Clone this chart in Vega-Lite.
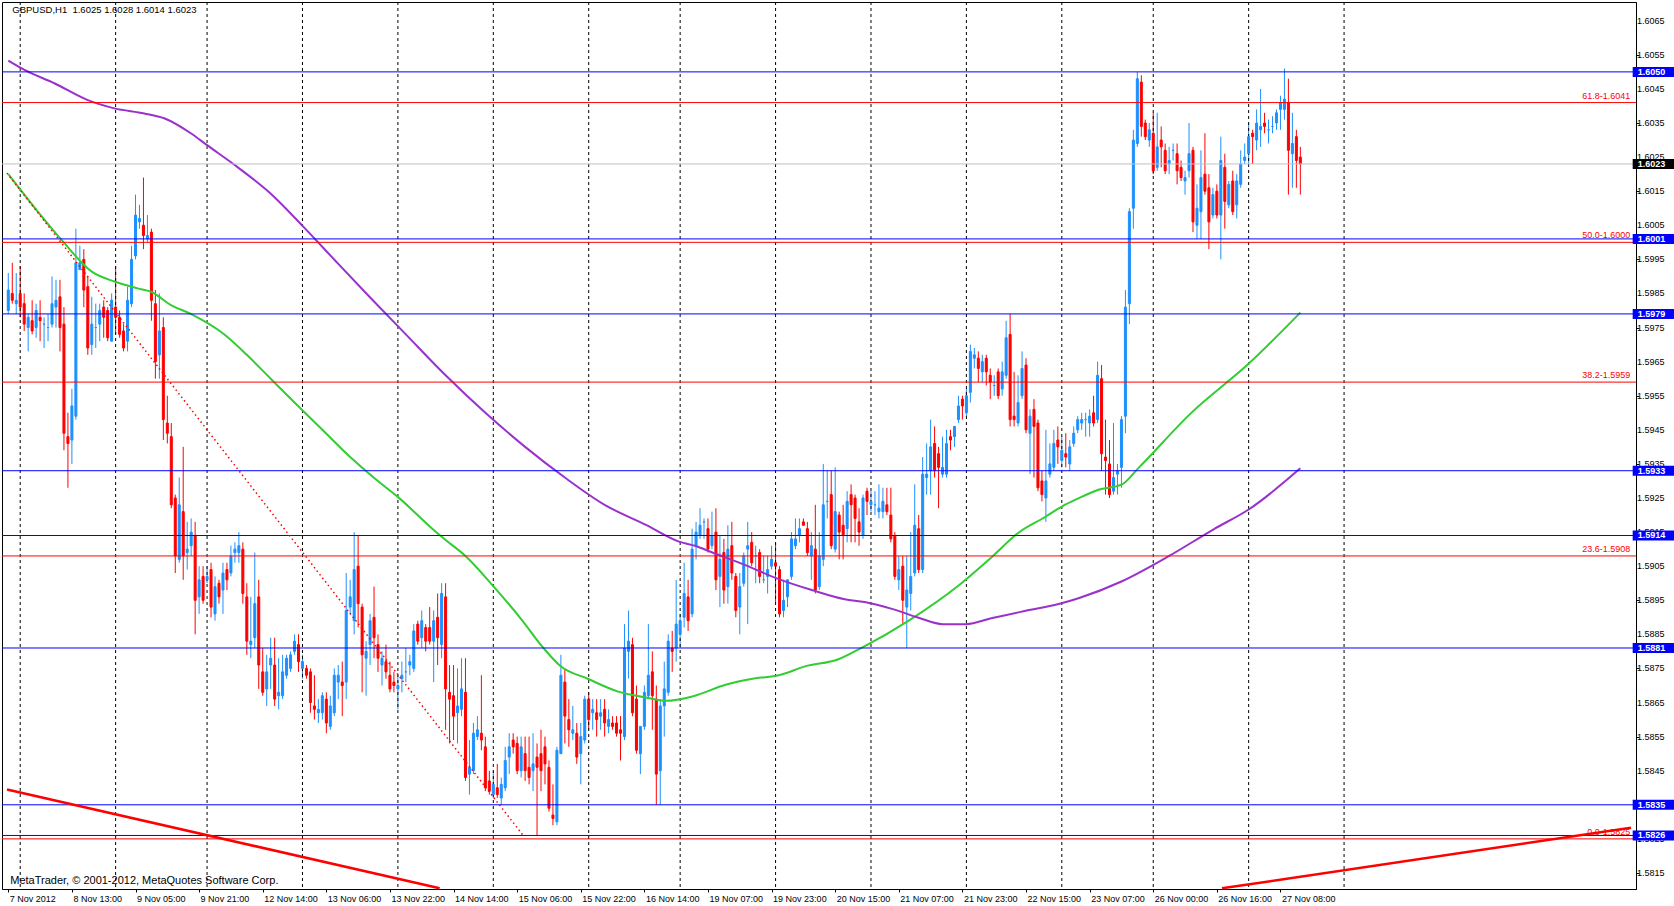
{
  "$schema": "https://vega.github.io/schema/vega-lite/v6.json",
  "width": 1634,
  "height": 887,
  "autosize": {"type": "none"},
  "padding": {"left": 2, "top": 2, "right": 38, "bottom": 17},
  "background": "#FFFFFF",
  "config": {
    "view": {"stroke": "#000000", "strokeWidth": 1},
    "font": "Liberation Sans",
    "axis": {"domainColor": "#000000", "tickColor": "#000000", "labelColor": "#000000", "labelFont": "Liberation Sans", "labelFontSize": 9, "grid": false}
  },
  "datasets": {
    "bars": [
      {"i":0,"o":1.5980,"h":1.5991,"l":1.5979,"c":1.5986},
      {"i":1,"o":1.5985,"h":1.5994,"l":1.5982,"c":1.5983},
      {"i":2,"o":1.5982,"h":1.5991,"l":1.5979,"c":1.5983},
      {"i":3,"o":1.5985,"h":1.5993,"l":1.5978,"c":1.5981},
      {"i":4,"o":1.5982,"h":1.5985,"l":1.5974,"c":1.5976},
      {"i":5,"o":1.5975,"h":1.5979,"l":1.5968,"c":1.5978},
      {"i":6,"o":1.5977,"h":1.5983,"l":1.5973,"c":1.5974},
      {"i":7,"o":1.5975,"h":1.5982,"l":1.5972,"c":1.5980},
      {"i":8,"o":1.5978,"h":1.5983,"l":1.5971,"c":1.5977},
      {"i":9,"o":1.5976,"h":1.5978,"l":1.5969,"c":1.5976},
      {"i":10,"o":1.5975,"h":1.5979,"l":1.5971,"c":1.5975},
      {"i":11,"o":1.5976,"h":1.5990,"l":1.5975,"c":1.5982},
      {"i":12,"o":1.5981,"h":1.5989,"l":1.5975,"c":1.5983},
      {"i":13,"o":1.5984,"h":1.5989,"l":1.5968,"c":1.5975},
      {"i":14,"o":1.5976,"h":1.5981,"l":1.5939,"c":1.5944},
      {"i":15,"o":1.5943,"h":1.5950,"l":1.5928,"c":1.5941},
      {"i":16,"o":1.5942,"h":1.5957,"l":1.5935,"c":1.5952},
      {"i":17,"o":1.5949,"h":1.6004,"l":1.5948,"c":1.5994},
      {"i":18,"o":1.5992,"h":1.5999,"l":1.5992,"c":1.5994},
      {"i":19,"o":1.5995,"h":1.5998,"l":1.5981,"c":1.5986},
      {"i":20,"o":1.5987,"h":1.5990,"l":1.5967,"c":1.5969},
      {"i":21,"o":1.5970,"h":1.5984,"l":1.5967,"c":1.5976},
      {"i":22,"o":1.5975,"h":1.5982,"l":1.5969,"c":1.5975},
      {"i":23,"o":1.5976,"h":1.5982,"l":1.5971,"c":1.5980},
      {"i":24,"o":1.5981,"h":1.5983,"l":1.5972,"c":1.5978},
      {"i":25,"o":1.5980,"h":1.5981,"l":1.5971,"c":1.5972},
      {"i":26,"o":1.5971,"h":1.5985,"l":1.5971,"c":1.5983},
      {"i":27,"o":1.5981,"h":1.5993,"l":1.5973,"c":1.5978},
      {"i":28,"o":1.5978,"h":1.5980,"l":1.5972,"c":1.5973},
      {"i":29,"o":1.5974,"h":1.5976,"l":1.5968,"c":1.5969},
      {"i":30,"o":1.5971,"h":1.5987,"l":1.5968,"c":1.5983},
      {"i":31,"o":1.5982,"h":1.5999,"l":1.5981,"c":1.5995},
      {"i":32,"o":1.5996,"h":1.6014,"l":1.5995,"c":1.6008},
      {"i":33,"o":1.6006,"h":1.6011,"l":1.6004,"c":1.6007},
      {"i":34,"o":1.6005,"h":1.6019,"l":1.5998,"c":1.6002},
      {"i":35,"o":1.6001,"h":1.6008,"l":1.6000,"c":1.6002},
      {"i":36,"o":1.6003,"h":1.6004,"l":1.5977,"c":1.5983},
      {"i":37,"o":1.5982,"h":1.5986,"l":1.5960,"c":1.5965},
      {"i":38,"o":1.5967,"h":1.5985,"l":1.5960,"c":1.5974},
      {"i":39,"o":1.5975,"h":1.5978,"l":1.5942,"c":1.5948},
      {"i":40,"o":1.5947,"h":1.5955,"l":1.5941,"c":1.5944},
      {"i":41,"o":1.5943,"h":1.5947,"l":1.5922,"c":1.5923},
      {"i":42,"o":1.5925,"h":1.5926,"l":1.5903,"c":1.5908},
      {"i":43,"o":1.5907,"h":1.5931,"l":1.5906,"c":1.5923},
      {"i":44,"o":1.5921,"h":1.5940,"l":1.5901,"c":1.5908},
      {"i":45,"o":1.5909,"h":1.5918,"l":1.5904,"c":1.5910},
      {"i":46,"o":1.5911,"h":1.5919,"l":1.5908,"c":1.5915},
      {"i":47,"o":1.5914,"h":1.5918,"l":1.5885,"c":1.5895},
      {"i":48,"o":1.5896,"h":1.5905,"l":1.5891,"c":1.5901},
      {"i":49,"o":1.5902,"h":1.5905,"l":1.5894,"c":1.5895},
      {"i":50,"o":1.5901,"h":1.5905,"l":1.5900,"c":1.5902},
      {"i":51,"o":1.5904,"h":1.5906,"l":1.5890,"c":1.5893},
      {"i":52,"o":1.5891,"h":1.5902,"l":1.5889,"c":1.5899},
      {"i":53,"o":1.5900,"h":1.5901,"l":1.5894,"c":1.5896},
      {"i":54,"o":1.5898,"h":1.5906,"l":1.5891,"c":1.5903},
      {"i":55,"o":1.5904,"h":1.5906,"l":1.5898,"c":1.5901},
      {"i":56,"o":1.5903,"h":1.5911,"l":1.5902,"c":1.5908},
      {"i":57,"o":1.5909,"h":1.5912,"l":1.5906,"c":1.5910},
      {"i":58,"o":1.5909,"h":1.5915,"l":1.5906,"c":1.5911},
      {"i":59,"o":1.5910,"h":1.5912,"l":1.5894,"c":1.5897},
      {"i":60,"o":1.5896,"h":1.5900,"l":1.5879,"c":1.5883},
      {"i":61,"o":1.5882,"h":1.5896,"l":1.5878,"c":1.5883},
      {"i":62,"o":1.5884,"h":1.5909,"l":1.5881,"c":1.5894},
      {"i":63,"o":1.5896,"h":1.5901,"l":1.5869,"c":1.5876},
      {"i":64,"o":1.5874,"h":1.5881,"l":1.5867,"c":1.5868},
      {"i":65,"o":1.5869,"h":1.5879,"l":1.5864,"c":1.5874},
      {"i":66,"o":1.5876,"h":1.5884,"l":1.5869,"c":1.5878},
      {"i":67,"o":1.5876,"h":1.5884,"l":1.5864,"c":1.5866},
      {"i":68,"o":1.5867,"h":1.5878,"l":1.5863,"c":1.5868},
      {"i":69,"o":1.5867,"h":1.5879,"l":1.5866,"c":1.5874},
      {"i":70,"o":1.5873,"h":1.5879,"l":1.5872,"c":1.5878},
      {"i":71,"o":1.5875,"h":1.5880,"l":1.5874,"c":1.5879},
      {"i":72,"o":1.5880,"h":1.5885,"l":1.5879,"c":1.5883},
      {"i":73,"o":1.5882,"h":1.5885,"l":1.5874,"c":1.5877},
      {"i":74,"o":1.5875,"h":1.5879,"l":1.5872,"c":1.5877},
      {"i":75,"o":1.5875,"h":1.5876,"l":1.5872,"c":1.5873},
      {"i":76,"o":1.5874,"h":1.5875,"l":1.5862,"c":1.5865},
      {"i":77,"o":1.5864,"h":1.5873,"l":1.5860,"c":1.5863},
      {"i":78,"o":1.5862,"h":1.5866,"l":1.5859,"c":1.5863},
      {"i":79,"o":1.5862,"h":1.5868,"l":1.5860,"c":1.5867},
      {"i":80,"o":1.5866,"h":1.5868,"l":1.5856,"c":1.5859},
      {"i":81,"o":1.5858,"h":1.5867,"l":1.5857,"c":1.5864},
      {"i":82,"o":1.5862,"h":1.5875,"l":1.5861,"c":1.5873},
      {"i":83,"o":1.5871,"h":1.5876,"l":1.5866,"c":1.5873},
      {"i":84,"o":1.5871,"h":1.5877,"l":1.5861,"c":1.5870},
      {"i":85,"o":1.5871,"h":1.5903,"l":1.5866,"c":1.5892},
      {"i":86,"o":1.5893,"h":1.5901,"l":1.5891,"c":1.5896},
      {"i":87,"o":1.5889,"h":1.5915,"l":1.5885,"c":1.5904},
      {"i":88,"o":1.5905,"h":1.5914,"l":1.5887,"c":1.5894},
      {"i":89,"o":1.5893,"h":1.5894,"l":1.5868,"c":1.5879},
      {"i":90,"o":1.5878,"h":1.5883,"l":1.5867,"c":1.5880},
      {"i":91,"o":1.5882,"h":1.5891,"l":1.5876,"c":1.5889},
      {"i":92,"o":1.5890,"h":1.5899,"l":1.5878,"c":1.5884},
      {"i":93,"o":1.5882,"h":1.5885,"l":1.5874,"c":1.5878},
      {"i":94,"o":1.5876,"h":1.5880,"l":1.5870,"c":1.5878},
      {"i":95,"o":1.5877,"h":1.5882,"l":1.5872,"c":1.5874},
      {"i":96,"o":1.5873,"h":1.5877,"l":1.5868,"c":1.5869},
      {"i":97,"o":1.5871,"h":1.5874,"l":1.5868,"c":1.5870},
      {"i":98,"o":1.5869,"h":1.5873,"l":1.5863,"c":1.5870},
      {"i":99,"o":1.5872,"h":1.5877,"l":1.5868,"c":1.5873},
      {"i":100,"o":1.5874,"h":1.5881,"l":1.5871,"c":1.5874},
      {"i":101,"o":1.5876,"h":1.5879,"l":1.5873,"c":1.5877},
      {"i":102,"o":1.5875,"h":1.5888,"l":1.5874,"c":1.5886},
      {"i":103,"o":1.5888,"h":1.5889,"l":1.5882,"c":1.5883},
      {"i":104,"o":1.5884,"h":1.5892,"l":1.5881,"c":1.5889},
      {"i":105,"o":1.5887,"h":1.5888,"l":1.5880,"c":1.5883},
      {"i":106,"o":1.5887,"h":1.5893,"l":1.5882,"c":1.5883},
      {"i":107,"o":1.5883,"h":1.5892,"l":1.5871,"c":1.5889},
      {"i":108,"o":1.5890,"h":1.5897,"l":1.5876,"c":1.5884},
      {"i":109,"o":1.5882,"h":1.5900,"l":1.5878,"c":1.5897},
      {"i":110,"o":1.5896,"h":1.5900,"l":1.5857,"c":1.5869},
      {"i":111,"o":1.5868,"h":1.5876,"l":1.5853,"c":1.5866},
      {"i":112,"o":1.5867,"h":1.5876,"l":1.5854,"c":1.5861},
      {"i":113,"o":1.5862,"h":1.5875,"l":1.5853,"c":1.5864},
      {"i":114,"o":1.5863,"h":1.5878,"l":1.5861,"c":1.5869},
      {"i":115,"o":1.5868,"h":1.5878,"l":1.5842,"c":1.5843},
      {"i":116,"o":1.5844,"h":1.5854,"l":1.5838,"c":1.5846},
      {"i":117,"o":1.5845,"h":1.5859,"l":1.5844,"c":1.5856},
      {"i":118,"o":1.5855,"h":1.5861,"l":1.5854,"c":1.5857},
      {"i":119,"o":1.5856,"h":1.5873,"l":1.5851,"c":1.5854},
      {"i":120,"o":1.5852,"h":1.5855,"l":1.5839,"c":1.5840},
      {"i":121,"o":1.5842,"h":1.5845,"l":1.5838,"c":1.5839},
      {"i":122,"o":1.5838,"h":1.5845,"l":1.5837,"c":1.5841},
      {"i":123,"o":1.5840,"h":1.5847,"l":1.5837,"c":1.5838},
      {"i":124,"o":1.5837,"h":1.5843,"l":1.5835,"c":1.5841},
      {"i":125,"o":1.5840,"h":1.5852,"l":1.5839,"c":1.5848},
      {"i":126,"o":1.5849,"h":1.5856,"l":1.5844,"c":1.5852},
      {"i":127,"o":1.5854,"h":1.5856,"l":1.5850,"c":1.5852},
      {"i":128,"o":1.5853,"h":1.5855,"l":1.5844,"c":1.5845},
      {"i":129,"o":1.5845,"h":1.5855,"l":1.5843,"c":1.5852},
      {"i":130,"o":1.5850,"h":1.5855,"l":1.5842,"c":1.5845},
      {"i":131,"o":1.5846,"h":1.5855,"l":1.5841,"c":1.5843},
      {"i":132,"o":1.5845,"h":1.5856,"l":1.5839,"c":1.5847},
      {"i":133,"o":1.5849,"h":1.5853,"l":1.5826,"c":1.5846},
      {"i":134,"o":1.5850,"h":1.5857,"l":1.5839,"c":1.5845},
      {"i":135,"o":1.5852,"h":1.5855,"l":1.5841,"c":1.5847},
      {"i":136,"o":1.5846,"h":1.5848,"l":1.5833,"c":1.5834},
      {"i":137,"o":1.5832,"h":1.5841,"l":1.5829,"c":1.5831},
      {"i":138,"o":1.5830,"h":1.5852,"l":1.5829,"c":1.5851},
      {"i":139,"o":1.5850,"h":1.5879,"l":1.5850,"c":1.5873},
      {"i":140,"o":1.5871,"h":1.5875,"l":1.5853,"c":1.5861},
      {"i":141,"o":1.5860,"h":1.5866,"l":1.5852,"c":1.5857},
      {"i":142,"o":1.5856,"h":1.5864,"l":1.5854,"c":1.5857},
      {"i":143,"o":1.5856,"h":1.5859,"l":1.5847,"c":1.5849},
      {"i":144,"o":1.5850,"h":1.5859,"l":1.5841,"c":1.5855},
      {"i":145,"o":1.5854,"h":1.5867,"l":1.5853,"c":1.5866},
      {"i":146,"o":1.5866,"h":1.5868,"l":1.5857,"c":1.5860},
      {"i":147,"o":1.5862,"h":1.5866,"l":1.5857,"c":1.5863},
      {"i":148,"o":1.5862,"h":1.5866,"l":1.5855,"c":1.5860},
      {"i":149,"o":1.5861,"h":1.5866,"l":1.5857,"c":1.5862},
      {"i":150,"o":1.5863,"h":1.5866,"l":1.5855,"c":1.5859},
      {"i":151,"o":1.5858,"h":1.5863,"l":1.5856,"c":1.5860},
      {"i":152,"o":1.5859,"h":1.5861,"l":1.5857,"c":1.5858},
      {"i":153,"o":1.5859,"h":1.5861,"l":1.5855,"c":1.5856},
      {"i":154,"o":1.5857,"h":1.5861,"l":1.5848,"c":1.5856},
      {"i":155,"o":1.5855,"h":1.5888,"l":1.5854,"c":1.5881},
      {"i":156,"o":1.5880,"h":1.5892,"l":1.5872,"c":1.5883},
      {"i":157,"o":1.5882,"h":1.5884,"l":1.5861,"c":1.5862},
      {"i":158,"o":1.5866,"h":1.5870,"l":1.5850,"c":1.5851},
      {"i":159,"o":1.5850,"h":1.5858,"l":1.5844,"c":1.5858},
      {"i":160,"o":1.5858,"h":1.5870,"l":1.5857,"c":1.5868},
      {"i":161,"o":1.5867,"h":1.5888,"l":1.5866,"c":1.5873},
      {"i":162,"o":1.5874,"h":1.5880,"l":1.5857,"c":1.5867},
      {"i":163,"o":1.5866,"h":1.5870,"l":1.5835,"c":1.5844},
      {"i":164,"o":1.5845,"h":1.5866,"l":1.5835,"c":1.5864},
      {"i":165,"o":1.5864,"h":1.5877,"l":1.5855,"c":1.5869},
      {"i":166,"o":1.5868,"h":1.5885,"l":1.5867,"c":1.5883},
      {"i":167,"o":1.5881,"h":1.5886,"l":1.5874,"c":1.5880},
      {"i":168,"o":1.5881,"h":1.5901,"l":1.5877,"c":1.5888},
      {"i":169,"o":1.5885,"h":1.5891,"l":1.5881,"c":1.5889},
      {"i":170,"o":1.5890,"h":1.5906,"l":1.5887,"c":1.5897},
      {"i":171,"o":1.5896,"h":1.5901,"l":1.5886,"c":1.5889},
      {"i":172,"o":1.5891,"h":1.5916,"l":1.5890,"c":1.5910},
      {"i":173,"o":1.5911,"h":1.5918,"l":1.5907,"c":1.5915},
      {"i":174,"o":1.5914,"h":1.5922,"l":1.5913,"c":1.5917},
      {"i":175,"o":1.5918,"h":1.5919,"l":1.5913,"c":1.5918},
      {"i":176,"o":1.5916,"h":1.5919,"l":1.5909,"c":1.5910},
      {"i":177,"o":1.5911,"h":1.5921,"l":1.5910,"c":1.5914},
      {"i":178,"o":1.5915,"h":1.5922,"l":1.5898,"c":1.5901},
      {"i":179,"o":1.5902,"h":1.5914,"l":1.5893,"c":1.5907},
      {"i":180,"o":1.5909,"h":1.5913,"l":1.5894,"c":1.5898},
      {"i":181,"o":1.5899,"h":1.5917,"l":1.5894,"c":1.5910},
      {"i":182,"o":1.5911,"h":1.5918,"l":1.5901,"c":1.5903},
      {"i":183,"o":1.5902,"h":1.5903,"l":1.5890,"c":1.5892},
      {"i":184,"o":1.5893,"h":1.5903,"l":1.5885,"c":1.5899},
      {"i":185,"o":1.5900,"h":1.5909,"l":1.5899,"c":1.5908},
      {"i":186,"o":1.5910,"h":1.5918,"l":1.5888,"c":1.5911},
      {"i":187,"o":1.5912,"h":1.5915,"l":1.5905,"c":1.5906},
      {"i":188,"o":1.5908,"h":1.5911,"l":1.5900,"c":1.5908},
      {"i":189,"o":1.5909,"h":1.5910,"l":1.5900,"c":1.5902},
      {"i":190,"o":1.5901,"h":1.5908,"l":1.5900,"c":1.5901},
      {"i":191,"o":1.5902,"h":1.5908,"l":1.5897,"c":1.5904},
      {"i":192,"o":1.5905,"h":1.5911,"l":1.5904,"c":1.5907},
      {"i":193,"o":1.5906,"h":1.5912,"l":1.5894,"c":1.5905},
      {"i":194,"o":1.5904,"h":1.5905,"l":1.5890,"c":1.5891},
      {"i":195,"o":1.5892,"h":1.5901,"l":1.5890,"c":1.5895},
      {"i":196,"o":1.5896,"h":1.5901,"l":1.5893,"c":1.5901},
      {"i":197,"o":1.5902,"h":1.5915,"l":1.5901,"c":1.5913},
      {"i":198,"o":1.5911,"h":1.5919,"l":1.5910,"c":1.5913},
      {"i":199,"o":1.5914,"h":1.5919,"l":1.5912,"c":1.5916},
      {"i":200,"o":1.5918,"h":1.5919,"l":1.5917,"c":1.5917},
      {"i":201,"o":1.5916,"h":1.5918,"l":1.5908,"c":1.5909},
      {"i":202,"o":1.5908,"h":1.5915,"l":1.5901,"c":1.5911},
      {"i":203,"o":1.5910,"h":1.5923,"l":1.5897,"c":1.5898},
      {"i":204,"o":1.5899,"h":1.5915,"l":1.5898,"c":1.5908},
      {"i":205,"o":1.5907,"h":1.5935,"l":1.5905,"c":1.5923},
      {"i":206,"o":1.5924,"h":1.5933,"l":1.5919,"c":1.5924},
      {"i":207,"o":1.5926,"h":1.5933,"l":1.5910,"c":1.5911},
      {"i":208,"o":1.5910,"h":1.5934,"l":1.5909,"c":1.5921},
      {"i":209,"o":1.5920,"h":1.5921,"l":1.5907,"c":1.5915},
      {"i":210,"o":1.5917,"h":1.5923,"l":1.5907,"c":1.5914},
      {"i":211,"o":1.5916,"h":1.5927,"l":1.5912,"c":1.5924},
      {"i":212,"o":1.5926,"h":1.5929,"l":1.5912,"c":1.5923},
      {"i":213,"o":1.5925,"h":1.5926,"l":1.5912,"c":1.5919},
      {"i":214,"o":1.5918,"h":1.5922,"l":1.5911,"c":1.5915},
      {"i":215,"o":1.5914,"h":1.5926,"l":1.5913,"c":1.5925},
      {"i":216,"o":1.5927,"h":1.5928,"l":1.5920,"c":1.5924},
      {"i":217,"o":1.5923,"h":1.5927,"l":1.5921,"c":1.5924},
      {"i":218,"o":1.5923,"h":1.5927,"l":1.5920,"c":1.5923},
      {"i":219,"o":1.5921,"h":1.5929,"l":1.5919,"c":1.5922},
      {"i":220,"o":1.5921,"h":1.5928,"l":1.5919,"c":1.5924},
      {"i":221,"o":1.5923,"h":1.5928,"l":1.5920,"c":1.5921},
      {"i":222,"o":1.5920,"h":1.5928,"l":1.5912,"c":1.5913},
      {"i":223,"o":1.5914,"h":1.5915,"l":1.5901,"c":1.5902},
      {"i":224,"o":1.5901,"h":1.5908,"l":1.5898,"c":1.5904},
      {"i":225,"o":1.5905,"h":1.5908,"l":1.5888,"c":1.5895},
      {"i":226,"o":1.5893,"h":1.5908,"l":1.5881,"c":1.5898},
      {"i":227,"o":1.5897,"h":1.5915,"l":1.5892,"c":1.5902},
      {"i":228,"o":1.5903,"h":1.5929,"l":1.5902,"c":1.5917},
      {"i":229,"o":1.5916,"h":1.5920,"l":1.5903,"c":1.5904},
      {"i":230,"o":1.5904,"h":1.5937,"l":1.5903,"c":1.5932},
      {"i":231,"o":1.5931,"h":1.5941,"l":1.5926,"c":1.5932},
      {"i":232,"o":1.5933,"h":1.5948,"l":1.5926,"c":1.5940},
      {"i":233,"o":1.5941,"h":1.5946,"l":1.5931,"c":1.5933},
      {"i":234,"o":1.5938,"h":1.5940,"l":1.5922,"c":1.5934},
      {"i":235,"o":1.5932,"h":1.5943,"l":1.5931,"c":1.5934},
      {"i":236,"o":1.5932,"h":1.5945,"l":1.5931,"c":1.5941},
      {"i":237,"o":1.5943,"h":1.5945,"l":1.5939,"c":1.5942},
      {"i":238,"o":1.5943,"h":1.5946,"l":1.5940,"c":1.5946},
      {"i":239,"o":1.5948,"h":1.5955,"l":1.5947,"c":1.5952},
      {"i":240,"o":1.5954,"h":1.5955,"l":1.5948,"c":1.5952},
      {"i":241,"o":1.5950,"h":1.5957,"l":1.5949,"c":1.5955},
      {"i":242,"o":1.5956,"h":1.5970,"l":1.5953,"c":1.5968},
      {"i":243,"o":1.5966,"h":1.5969,"l":1.5963,"c":1.5967},
      {"i":244,"o":1.5966,"h":1.5968,"l":1.5959,"c":1.5963},
      {"i":245,"o":1.5962,"h":1.5967,"l":1.5959,"c":1.5965},
      {"i":246,"o":1.5966,"h":1.5967,"l":1.5958,"c":1.5962},
      {"i":247,"o":1.5961,"h":1.5963,"l":1.5954,"c":1.5959},
      {"i":248,"o":1.5958,"h":1.5961,"l":1.5955,"c":1.5958},
      {"i":249,"o":1.5962,"h":1.5963,"l":1.5954,"c":1.5955},
      {"i":250,"o":1.5957,"h":1.5965,"l":1.5955,"c":1.5962},
      {"i":251,"o":1.5961,"h":1.5977,"l":1.5960,"c":1.5972},
      {"i":252,"o":1.5973,"h":1.5979,"l":1.5946,"c":1.5948},
      {"i":253,"o":1.5949,"h":1.5962,"l":1.5946,"c":1.5948},
      {"i":254,"o":1.5947,"h":1.5961,"l":1.5946,"c":1.5953},
      {"i":255,"o":1.5955,"h":1.5968,"l":1.5954,"c":1.5963},
      {"i":256,"o":1.5964,"h":1.5966,"l":1.5944,"c":1.5945},
      {"i":257,"o":1.5944,"h":1.5951,"l":1.5932,"c":1.5949},
      {"i":258,"o":1.5951,"h":1.5954,"l":1.5931,"c":1.5946},
      {"i":259,"o":1.5947,"h":1.5948,"l":1.5927,"c":1.5928},
      {"i":260,"o":1.5930,"h":1.5933,"l":1.5924,"c":1.5926},
      {"i":261,"o":1.5925,"h":1.5945,"l":1.5918,"c":1.5930},
      {"i":262,"o":1.5932,"h":1.5941,"l":1.5931,"c":1.5935},
      {"i":263,"o":1.5934,"h":1.5945,"l":1.5933,"c":1.5941},
      {"i":264,"o":1.5942,"h":1.5946,"l":1.5935,"c":1.5940},
      {"i":265,"o":1.5936,"h":1.5943,"l":1.5934,"c":1.5939},
      {"i":266,"o":1.5938,"h":1.5944,"l":1.5934,"c":1.5937},
      {"i":267,"o":1.5935,"h":1.5942,"l":1.5933,"c":1.5940},
      {"i":268,"o":1.5941,"h":1.5946,"l":1.5940,"c":1.5944},
      {"i":269,"o":1.5945,"h":1.5949,"l":1.5944,"c":1.5948},
      {"i":270,"o":1.5947,"h":1.5950,"l":1.5945,"c":1.5948},
      {"i":271,"o":1.5948,"h":1.5950,"l":1.5943,"c":1.5948},
      {"i":272,"o":1.5947,"h":1.5951,"l":1.5943,"c":1.5949},
      {"i":273,"o":1.5950,"h":1.5955,"l":1.5946,"c":1.5947},
      {"i":274,"o":1.5948,"h":1.5965,"l":1.5947,"c":1.5961},
      {"i":275,"o":1.5960,"h":1.5964,"l":1.5933,"c":1.5938},
      {"i":276,"o":1.5937,"h":1.5948,"l":1.5926,"c":1.5936},
      {"i":277,"o":1.5935,"h":1.5942,"l":1.5925,"c":1.5926},
      {"i":278,"o":1.5927,"h":1.5947,"l":1.5926,"c":1.5931},
      {"i":279,"o":1.5932,"h":1.5935,"l":1.5926,"c":1.5933},
      {"i":280,"o":1.5934,"h":1.5949,"l":1.5928,"c":1.5948},
      {"i":281,"o":1.5949,"h":1.5986,"l":1.5944,"c":1.5981},
      {"i":282,"o":1.5982,"h":1.6010,"l":1.5976,"c":1.6009},
      {"i":283,"o":1.6010,"h":1.6033,"l":1.6004,"c":1.6030},
      {"i":284,"o":1.6029,"h":1.6050,"l":1.6028,"c":1.6048},
      {"i":285,"o":1.6047,"h":1.6049,"l":1.6031,"c":1.6034},
      {"i":286,"o":1.6035,"h":1.6036,"l":1.6030,"c":1.6031},
      {"i":287,"o":1.6030,"h":1.6035,"l":1.6028,"c":1.6033},
      {"i":288,"o":1.6032,"h":1.6038,"l":1.6020,"c":1.6021},
      {"i":289,"o":1.6022,"h":1.6038,"l":1.6021,"c":1.6028},
      {"i":290,"o":1.6030,"h":1.6034,"l":1.6022,"c":1.6028},
      {"i":291,"o":1.6027,"h":1.6029,"l":1.6020,"c":1.6021},
      {"i":292,"o":1.6023,"h":1.6028,"l":1.6020,"c":1.6024},
      {"i":293,"o":1.6027,"h":1.6029,"l":1.6024,"c":1.6027},
      {"i":294,"o":1.6026,"h":1.6029,"l":1.6017,"c":1.6021},
      {"i":295,"o":1.6022,"h":1.6024,"l":1.6018,"c":1.6019},
      {"i":296,"o":1.6018,"h":1.6021,"l":1.6014,"c":1.6019},
      {"i":297,"o":1.6021,"h":1.6035,"l":1.6019,"c":1.6026},
      {"i":298,"o":1.6027,"h":1.6028,"l":1.6003,"c":1.6006},
      {"i":299,"o":1.6005,"h":1.6017,"l":1.6001,"c":1.6010},
      {"i":300,"o":1.6009,"h":1.6027,"l":1.6001,"c":1.6019},
      {"i":301,"o":1.6020,"h":1.6032,"l":1.6014,"c":1.6015},
      {"i":302,"o":1.6016,"h":1.6020,"l":1.5998,"c":1.6006},
      {"i":303,"o":1.6008,"h":1.6016,"l":1.6007,"c":1.6014},
      {"i":304,"o":1.6015,"h":1.6017,"l":1.6007,"c":1.6008},
      {"i":305,"o":1.6008,"h":1.6031,"l":1.5995,"c":1.6024},
      {"i":306,"o":1.6022,"h":1.6026,"l":1.6004,"c":1.6012},
      {"i":307,"o":1.6011,"h":1.6018,"l":1.6010,"c":1.6017},
      {"i":308,"o":1.6018,"h":1.6021,"l":1.6008,"c":1.6009},
      {"i":309,"o":1.6011,"h":1.6020,"l":1.6007,"c":1.6018},
      {"i":310,"o":1.6017,"h":1.6027,"l":1.6016,"c":1.6023},
      {"i":311,"o":1.6024,"h":1.6029,"l":1.6023,"c":1.6025},
      {"i":312,"o":1.6026,"h":1.6035,"l":1.6023,"c":1.6031},
      {"i":313,"o":1.6032,"h":1.6033,"l":1.6023,"c":1.6031},
      {"i":314,"o":1.6030,"h":1.6039,"l":1.6027,"c":1.6035},
      {"i":315,"o":1.6033,"h":1.6045,"l":1.6028,"c":1.6034},
      {"i":316,"o":1.6035,"h":1.6038,"l":1.6032,"c":1.6034},
      {"i":317,"o":1.6033,"h":1.6036,"l":1.6029,"c":1.6033},
      {"i":318,"o":1.6034,"h":1.6037,"l":1.6032,"c":1.6034},
      {"i":319,"o":1.6035,"h":1.6039,"l":1.6033,"c":1.6038},
      {"i":320,"o":1.6039,"h":1.6043,"l":1.6033,"c":1.6041},
      {"i":321,"o":1.6039,"h":1.6051,"l":1.6036,"c":1.6042},
      {"i":322,"o":1.6041,"h":1.6048,"l":1.6014,"c":1.6027},
      {"i":323,"o":1.6026,"h":1.6038,"l":1.6016,"c":1.6029},
      {"i":324,"o":1.6031,"h":1.6033,"l":1.6016,"c":1.6024},
      {"i":325,"o":1.6025,"h":1.6028,"l":1.6014,"c":1.6023}
    ],
    "maFast": [
      {"i":0,"p":1.60200},{"i":13.4,"p":1.60007},{"i":21,"p":1.59914},{"i":26.7,"p":1.59885},
      {"i":32.5,"p":1.59865},{"i":35.9,"p":1.59855},{"i":40.9,"p":1.59816},{"i":45.9,"p":1.59790},
      {"i":54.2,"p":1.59731},{"i":60,"p":1.59670},{"i":66,"p":1.59600},{"i":72,"p":1.59530},
      {"i":79,"p":1.59450},{"i":86,"p":1.59370},{"i":92.5,"p":1.59304},{"i":97.9,"p":1.59254},
      {"i":107.5,"p":1.59151},{"i":110,"p":1.59127},{"i":115,"p":1.59080},{"i":122.1,"p":1.58990},
      {"i":129.2,"p":1.58892},{"i":134.6,"p":1.58810},{"i":138.8,"p":1.58758},{"i":145.9,"p":1.58719},
      {"i":153.4,"p":1.58682},{"i":160.4,"p":1.58665},{"i":165.4,"p":1.58655},{"i":172.1,"p":1.58668},
      {"i":180.4,"p":1.58702},{"i":187.9,"p":1.58721},{"i":193.8,"p":1.58730},{"i":200.4,"p":1.58756},
      {"i":208.8,"p":1.58777},{"i":214.4,"p":1.58809},{"i":226.7,"p":1.58892},{"i":239.2,"p":1.58995},
      {"i":247.5,"p":1.59078},{"i":254.2,"p":1.59149},{"i":260.9,"p":1.59195},{"i":265,"p":1.59225},
      {"i":269.2,"p":1.59249},{"i":274.2,"p":1.59274},{"i":280,"p":1.59289},{"i":284.2,"p":1.59337},
      {"i":297.5,"p":1.59499},{"i":312.1,"p":1.59645},{"i":325,"p":1.59794}
    ],
    "maSlow": [
      {"i":0,"p":1.60533},{"i":4.2,"p":1.60505},{"i":11.7,"p":1.60466},{"i":20,"p":1.60417},
      {"i":26.7,"p":1.60393},{"i":34.2,"p":1.60378},{"i":39.2,"p":1.60364},{"i":45.9,"p":1.60320},
      {"i":50,"p":1.60285},{"i":57.5,"p":1.60222},{"i":65.9,"p":1.60144},{"i":74.2,"p":1.60046},
      {"i":82.5,"p":1.59943},{"i":91.2,"p":1.59836},{"i":100,"p":1.59730},{"i":110,"p":1.59610},
      {"i":120,"p":1.59500},{"i":130,"p":1.59400},{"i":140,"p":1.59310},{"i":150,"p":1.59230},
      {"i":160.4,"p":1.59171},{"i":168.7,"p":1.59122},{"i":172.9,"p":1.59109},{"i":177.1,"p":1.59090},
      {"i":185.4,"p":1.59053},{"i":193.8,"p":1.59012},{"i":202.1,"p":1.58980},{"i":210.4,"p":1.58953},
      {"i":215.4,"p":1.58945},{"i":222.5,"p":1.58924},{"i":229.2,"p":1.58898},{"i":235,"p":1.58880},
      {"i":240.9,"p":1.58880},{"i":247.5,"p":1.58898},{"i":255.9,"p":1.58919},{"i":264.2,"p":1.58939},
      {"i":269.2,"p":1.58956},{"i":280,"p":1.59005},{"i":292,"p":1.59080},{"i":303.3,"p":1.59159},
      {"i":312.1,"p":1.59217},{"i":325,"p":1.59337}
    ],
    "days": [
      {"i":3},{"i":27},{"i":50},{"i":74},{"i":98},{"i":122},{"i":146},{"i":169},
      {"i":193},{"i":217},{"i":241},{"i":265},{"i":288},{"i":312},{"i":336}
    ],
    "yticks": [
      {"p":1.5815},{"p":1.5825},{"p":1.5835},{"p":1.5845},{"p":1.5855},{"p":1.5865},{"p":1.5875},
      {"p":1.5885},{"p":1.5895},{"p":1.5905},{"p":1.5915},{"p":1.5925},{"p":1.5935},{"p":1.5945},
      {"p":1.5955},{"p":1.5965},{"p":1.5975},{"p":1.5985},{"p":1.5995},{"p":1.6005},{"p":1.6015},
      {"p":1.6025},{"p":1.6035},{"p":1.6045},{"p":1.6055},{"p":1.6065}
    ],
    "levels": [
      {"p":1.6050},{"p":1.6001},{"p":1.5979},{"p":1.5933},
      {"p":1.5914},{"p":1.5881},{"p":1.5835},{"p":1.5826}
    ],
    "bid": [{"p":1.6023}],
    "fibo": [
      {"p":1.6041,"label":"61.8-1.6041"},
      {"p":1.6000,"label":"50.0-1.6000"},
      {"p":1.5959,"label":"38.2-1.5959"},
      {"p":1.5908,"label":"23.6-1.5908"},
      {"p":1.5825,"label":"0.0-1.5825"}
    ],
    "trend": [
      {"name":"down","i":-0.325,"p":1.58395},
      {"name":"down","i":108.5,"p":1.58105},
      {"name":"up","i":305.3,"p":1.58105},
      {"name":"up","i":408.175,"p":1.58283}
    ],
    "fiboDiag": [
      {"i":-0.325,"p":1.60203},
      {"i":129.6,"p":1.58259}
    ]
  },
  "layer": [
    {
      "data": {"name": "bars"},
      "mark": {"type": "rule", "strokeWidth": 1},
      "encoding": {
        "x": {
          "field": "i", "type": "quantitative", "title": null,
          "scale": {"domain": [-0.325, 408.175], "nice": false, "zero": false},
          "axis": {
            "title": null,
            "orient": "bottom",
            "values": [0,16,32,48,64,80,96,112,128,144,160,176,192,208,224,240,256,272,288,304,320],
            "labelExpr": "['7 Nov 2012','8 Nov 13:00','9 Nov 05:00','9 Nov 21:00','12 Nov 14:00','13 Nov 06:00','13 Nov 22:00','14 Nov 14:00','15 Nov 06:00','15 Nov 22:00','16 Nov 14:00','19 Nov 07:00','19 Nov 23:00','20 Nov 15:00','21 Nov 07:00','21 Nov 23:00','22 Nov 15:00','23 Nov 07:00','26 Nov 00:00','26 Nov 16:00','27 Nov 08:00'][round(datum.value / 16)]",
            "labelAlign": "left",
            "labelBaseline": "top",
            "labelPadding": 2,
            "labelOffset": 1,
            "tickSize": 3,
            "labelFlush": false,
            "labelOverlap": false
          }
        },
        "y": {
          "field": "l", "type": "quantitative", "title": null,
          "scale": {"domain": [1.58103, 1.60705], "nice": false, "zero": false},
          "axis": {
            "title": null,
            "orient": "right",
            "values": [1.5815,1.5825,1.5835,1.5845,1.5855,1.5865,1.5875,1.5885,1.5895,1.5905,1.5915,1.5925,1.5935,1.5945,1.5955,1.5965,1.5975,1.5985,1.5995,1.6005,1.6015,1.6025,1.6035,1.6045,1.6055,1.6065],
            "labels": false,
            "tickSize": 3
          }
        },
        "y2": {"field": "h"},
        "color": {"condition": {"test": "datum.c >= datum.o", "value": "#1E90FF"}, "value": "#FF0000"}
      }
    },
    {
      "data": {"name": "days"},
      "mark": {"type": "rule", "color": "#000000", "strokeWidth": 1, "strokeDash": [3, 3]},
      "encoding": {
        "x": {"field": "i", "type": "quantitative", "title": null, "scale": {"domain": [-0.325, 408.175], "nice": false, "zero": false}}
      }
    },
    {
      "data": {"name": "bars"},
      "mark": {"type": "bar", "width": 2, "strokeWidth": 1},
      "encoding": {
        "x": {"field": "i", "type": "quantitative", "title": null, "scale": {"domain": [-0.325, 408.175], "nice": false, "zero": false}},
        "y": {"field": "o", "type": "quantitative", "title": null, "scale": {"domain": [1.58103, 1.60705], "nice": false, "zero": false}},
        "y2": {"field": "c"},
        "color": {"condition": {"test": "datum.c >= datum.o", "value": "#1E90FF"}, "value": "#FF0000"},
        "stroke": {"condition": {"test": "datum.c >= datum.o", "value": "#1E90FF"}, "value": "#FF0000"}
      }
    },
    {
      "data": {"name": "maFast"},
      "mark": {"type": "line", "color": "#32CD32", "strokeWidth": 2, "interpolate": "monotone"},
      "encoding": {
        "x": {"field": "i", "type": "quantitative", "title": null, "scale": {"domain": [-0.325, 408.175], "nice": false, "zero": false}},
        "y": {"field": "p", "type": "quantitative", "title": null, "scale": {"domain": [1.58103, 1.60705], "nice": false, "zero": false}}
      }
    },
    {
      "data": {"name": "maSlow"},
      "mark": {"type": "line", "color": "#9932CC", "strokeWidth": 2, "interpolate": "monotone"},
      "encoding": {
        "x": {"field": "i", "type": "quantitative", "title": null, "scale": {"domain": [-0.325, 408.175], "nice": false, "zero": false}},
        "y": {"field": "p", "type": "quantitative", "title": null, "scale": {"domain": [1.58103, 1.60705], "nice": false, "zero": false}}
      }
    },
    {
      "data": {"name": "fibo"},
      "mark": {"type": "rule", "color": "#FF0000", "strokeWidth": 1},
      "encoding": {
        "y": {"field": "p", "type": "quantitative", "title": null, "scale": {"domain": [1.58103, 1.60705], "nice": false, "zero": false}}
      }
    },
    {
      "data": {"name": "bid"},
      "mark": {"type": "rule", "color": "#C0C0C0", "strokeWidth": 1},
      "encoding": {
        "y": {"field": "p", "type": "quantitative", "title": null, "scale": {"domain": [1.58103, 1.60705], "nice": false, "zero": false}}
      }
    },
    {
      "data": {"name": "levels"},
      "mark": {"type": "rule", "color": "#0000FF", "strokeWidth": 1},
      "encoding": {
        "y": {"field": "p", "type": "quantitative", "title": null, "scale": {"domain": [1.58103, 1.60705], "nice": false, "zero": false}}
      }
    },
    {
      "data": {"name": "fiboDiag"},
      "mark": {"type": "line", "color": "#FF0000", "strokeWidth": 1.5, "strokeDash": [1.5, 3]},
      "encoding": {
        "x": {"field": "i", "type": "quantitative", "title": null, "scale": {"domain": [-0.325, 408.175], "nice": false, "zero": false}},
        "y": {"field": "p", "type": "quantitative", "title": null, "scale": {"domain": [1.58103, 1.60705], "nice": false, "zero": false}}
      }
    },
    {
      "data": {"name": "trend"},
      "mark": {"type": "line", "color": "#FF0000", "strokeWidth": 2.5},
      "encoding": {
        "x": {"field": "i", "type": "quantitative", "title": null, "scale": {"domain": [-0.325, 408.175], "nice": false, "zero": false}},
        "y": {"field": "p", "type": "quantitative", "title": null, "scale": {"domain": [1.58103, 1.60705], "nice": false, "zero": false}},
        "detail": {"field": "name"}
      }
    },
    {
      "data": {"name": "fibo"},
      "mark": {"type": "text", "color": "#FF0000", "fontSize": 9, "align": "right", "baseline": "bottom", "dy": -2},
      "encoding": {
        "x": {"datum": 408.0, "type": "quantitative", "title": null, "scale": {"domain": [-0.325, 408.175], "nice": false, "zero": false}},
        "y": {"field": "p", "type": "quantitative", "title": null, "scale": {"domain": [1.58103, 1.60705], "nice": false, "zero": false}},
        "text": {"field": "label"}
      }
    },
    {
      "data": {"name": "yticks"},
      "mark": {"type": "text", "color": "#000000", "fontSize": 9, "align": "left", "baseline": "middle", "dx": 6},
      "encoding": {
        "x": {"datum": 408.175, "type": "quantitative", "title": null, "scale": {"domain": [-0.325, 408.175], "nice": false, "zero": false}},
        "y": {"field": "p", "type": "quantitative", "title": null, "scale": {"domain": [1.58103, 1.60705], "nice": false, "zero": false}},
        "text": {"field": "p", "type": "quantitative", "format": ".4f"}
      }
    },
    {
      "data": {"name": "levels"},
      "mark": {"type": "rect", "color": "#0000FF", "yOffset": -5, "y2Offset": 5, "clip": false},
      "encoding": {
        "x": {"datum": 408.6, "type": "quantitative", "title": null, "scale": {"domain": [-0.325, 408.175], "nice": false, "zero": false}},
        "x2": {"datum": 420},
        "y": {"field": "p", "type": "quantitative", "title": null, "scale": {"domain": [1.58103, 1.60705], "nice": false, "zero": false}},
        "y2": {"field": "p"}
      }
    },
    {
      "data": {"name": "bid"},
      "mark": {"type": "rect", "color": "#000000", "yOffset": -5, "y2Offset": 5, "clip": false},
      "encoding": {
        "x": {"datum": 408.6, "type": "quantitative", "title": null, "scale": {"domain": [-0.325, 408.175], "nice": false, "zero": false}},
        "x2": {"datum": 420},
        "y": {"field": "p", "type": "quantitative", "title": null, "scale": {"domain": [1.58103, 1.60705], "nice": false, "zero": false}},
        "y2": {"field": "p"}
      }
    },
    {
      "data": {"name": "levels"},
      "mark": {"type": "text", "color": "#FFFFFF", "fontSize": 9, "fontWeight": "bold", "align": "left", "baseline": "middle", "dx": 5},
      "encoding": {
        "x": {"datum": 408.6, "type": "quantitative", "title": null, "scale": {"domain": [-0.325, 408.175], "nice": false, "zero": false}},
        "y": {"field": "p", "type": "quantitative", "title": null, "scale": {"domain": [1.58103, 1.60705], "nice": false, "zero": false}},
        "text": {"field": "p", "type": "quantitative", "format": ".4f"}
      }
    },
    {
      "data": {"name": "bid"},
      "mark": {"type": "text", "color": "#FFFFFF", "fontSize": 9, "fontWeight": "bold", "align": "left", "baseline": "middle", "dx": 5},
      "encoding": {
        "x": {"datum": 408.6, "type": "quantitative", "title": null, "scale": {"domain": [-0.325, 408.175], "nice": false, "zero": false}},
        "y": {"field": "p", "type": "quantitative", "title": null, "scale": {"domain": [1.58103, 1.60705], "nice": false, "zero": false}},
        "text": {"field": "p", "type": "quantitative", "format": ".4f"}
      }
    },
    {
      "data": {"values": [{"t": "GBPUSD,H1\u00a0 1.6025 1.6028 1.6014 1.6023"}]},
      "mark": {"type": "text", "color": "#000000", "fontSize": 9.5, "align": "left", "baseline": "middle"},
      "encoding": {
        "x": {"datum": 1.0, "type": "quantitative", "title": null, "scale": {"domain": [-0.325, 408.175], "nice": false, "zero": false}},
        "y": {"datum": 1.606805, "type": "quantitative", "title": null, "scale": {"domain": [1.58103, 1.60705], "nice": false, "zero": false}},
        "text": {"field": "t"}
      }
    },
    {
      "data": {"values": [{"t": "MetaTrader, © 2001-2012, MetaQuotes Software Corp."}]},
      "mark": {"type": "text", "color": "#000000", "fontSize": 11, "align": "left", "baseline": "middle"},
      "encoding": {
        "x": {"datum": 0.5, "type": "quantitative", "title": null, "scale": {"domain": [-0.325, 408.175], "nice": false, "zero": false}},
        "y": {"datum": 1.58126, "type": "quantitative", "title": null, "scale": {"domain": [1.58103, 1.60705], "nice": false, "zero": false}},
        "text": {"field": "t"}
      }
    }
  ]
}
